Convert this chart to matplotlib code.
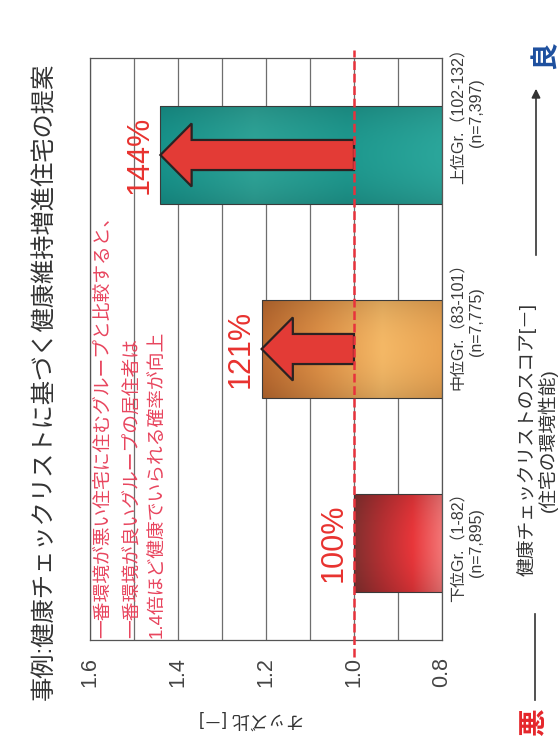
import numpy as np
import matplotlib
matplotlib.use('Agg')
import matplotlib.pyplot as plt
from matplotlib.colors import LinearSegmentedColormap
from matplotlib.patches import FancyArrow, FancyArrowPatch
from matplotlib.lines import Line2D
from matplotlib.transforms import blended_transform_factory

plt.rcParams['font.family'] = ['Liberation Sans', 'Noto Sans CJK JP']

# ---------------- data ----------------
groups = ['下位Gr.（1-82）\n(n=7,895)',
          '中位Gr.（83-101）\n(n=7,775)',
          '上位Gr.（102-132）\n(n=7,397)']
odds = [1.00, 1.21, 1.44]
pct_labels = ['100%', '121%', '144%']
base = 0.8
ref = 1.0
xticks = [0.8, 1.0, 1.2, 1.4, 1.6]
label_shift = [0.0, 0.14, 0.22]
# colour ramps from the 0.8 end to the tip of each bar
bar_colors = [
    ['#f27575', '#e8363a', '#b83033', '#83302f'],
    ['#e9a352', '#f4b866', '#de9147', '#bb6a30'],
    ['#2ba69b', '#1e988e', '#2ea498', '#17928a'],
]
title = '事例:健康チェックリストに基づく健康維持増進住宅の提案'
ylab = 'オッズ比 [－]'
xlab = '健康チェックリストのスコア[－]\n(住宅の環境性能)'
note = ('一番環境が悪い住宅に住むグループと比較すると、\n'
        '一番環境が良いグループの居住者は\n'
        '1.4倍ほど健康でいられる確率が向上')

W, H = 559, 742
fig = plt.figure(figsize=(W / 100, H / 100), dpi=100)
ax = fig.add_axes([90 / W, 1 - 640 / H, (442 - 90) / W, (640 - 58) / H])

n = len(odds)
ypos = np.arange(n)
h = 0.51
bars = ax.barh(ypos, np.array(odds) - base, left=base, height=h,
               color='none', edgecolor='#3a3a3a', lw=0.8, zorder=3)

# gradient fill of the bars
for b, cols, v in zip(bars, bar_colors, odds):
    cmap = LinearSegmentedColormap.from_list('g', cols)
    t = np.repeat(np.linspace(0, 1, 200)[None, :], 60, axis=0)
    s = np.linspace(-1, 1, 60)[:, None]
    rgba = cmap(t)
    rgba[..., :3] *= (1 - 0.12 * s ** 2)[..., None]
    im = ax.imshow(rgba, extent=(base, v, b.get_y(), b.get_y() + h),
                   aspect='auto', origin='lower', zorder=2.5)
    im.set_clip_path(b)

# arrows from the reference line to the bar tips
for y, v in zip(ypos, odds):
    if v > ref:
        ax.add_patch(FancyArrow(ref, y, v - ref, 0, width=0.155, head_width=0.325,
                                head_length=0.071, length_includes_head=True,
                                fc='#e33b36', ec='#2b2222', lw=1.6, zorder=4))

for y, v, lab in zip(ypos, odds, pct_labels):
    ax.annotate(lab, xy=(v, y), xytext=(-4, 0), textcoords='offset points',
                rotation=90, ha='right', va='center', color='#e8322f', fontsize=22)

ax.axvline(ref, ymin=-0.03, ymax=1.014, color='#e8323c', lw=1.8,
           dashes=(3.5, 1.5), clip_on=False, zorder=5)

ax.text(0.018, 0.004, note, transform=ax.transAxes, rotation=90, ha='left', va='bottom',
        multialignment='left', color='#e8455e', fontsize=13.5, linespacing=1.7, zorder=6)

ax.set_xlim(1.6, 0.8)
ax.set_ylim(-0.5, 2.5)
ax.set_xticks(xticks)
ax.set_xticklabels(['%.1f' % x for x in xticks], rotation=90, fontsize=15.5, color='#444444')
ax.set_xticks(np.arange(0.8, 1.61, 0.1), minor=True)
ax.set_yticks([])
ax.tick_params(axis='x', which='both', length=0, pad=12)
ax.grid(axis='x', which='both', color='#6e6e6e', lw=0.9)
ax.set_axisbelow(True)
for sp in ax.spines.values():
    sp.set_color('#555555')
    sp.set_linewidth(0.9)

tr = blended_transform_factory(ax.transAxes, ax.transData)
for y, g, sh in zip(ypos, groups, label_shift):
    ax.text(1.026, y + sh, g, transform=tr, rotation=90, ha='left', va='center',
            multialignment='center', fontsize=11.5, color='#3a3a3a', linespacing=1.25)

fig.text(45 / W, 1 - 381 / H, title, rotation=90, ha='center', va='center',
         fontsize=17.5, color='#333333')
fig.text(252 / W, 1 - 720 / H, ylab, rotation=180, ha='center', va='center',
         fontsize=13, color='#333333')

fig.text(535 / W, 1 - 722 / H, '悪', rotation=90, ha='center', va='center',
         fontsize=20, fontweight='bold', color='#e5262b')
fig.text(546 / W, 1 - 55 / H, '良', rotation=90, ha='center', va='center',
         fontsize=20, fontweight='bold', color='#1d4f9e')
fig.text(537 / W, 1 - 440 / H, xlab, rotation=90, ha='center', va='center',
         multialignment='center', fontsize=13.5, color='#333333', linespacing=1.05)
fig.add_artist(Line2D([535 / W, 535 / W], [1 - 700 / H, 1 - 614 / H],
                      transform=fig.transFigure, color='#333333', lw=1.2))
fig.add_artist(FancyArrowPatch((536 / W, 1 - 258 / H), (536 / W, 1 - 86 / H),
                               transform=fig.transFigure, arrowstyle='-|>',
                               mutation_scale=13, color='#333333', lw=1.2))

fig.savefig('out.png', dpi=100)
